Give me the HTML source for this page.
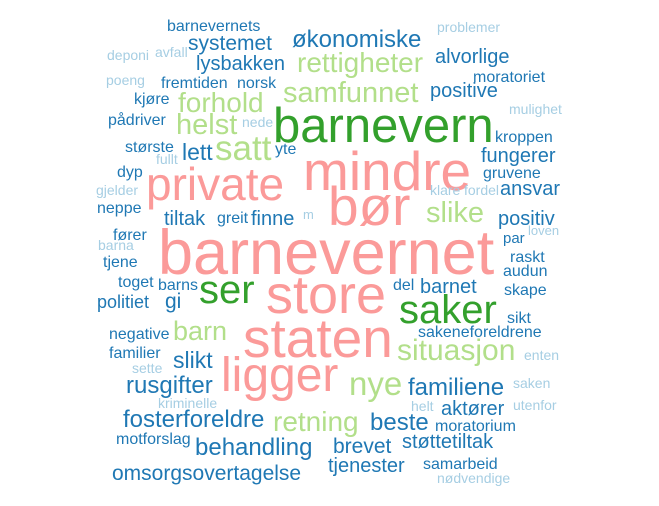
<!DOCTYPE html>
<html><head><meta charset="utf-8"><style>
html,body{margin:0;padding:0;background:#fff;width:659px;height:506px;overflow:hidden}
svg text{font-family:"Liberation Sans",Arial,sans-serif}
.p{fill:#fb9a99}.g{fill:#33a02c}.lg{fill:#b2df8a}.b{fill:#1f78b4}.lb{fill:#a6cee3}
</style></head><body>
<svg width="659" height="506" viewBox="0 0 659 506">
<g>
<text class="p" x="158" y="274" font-size="63">barnevernet</text>
<text class="p" x="266" y="313" font-size="54">store</text>
<text class="p" x="243" y="357" font-size="55">staten</text>
<text class="p" x="221" y="391" font-size="48">ligger</text>
<text class="p" x="303" y="190" font-size="55">mindre</text>
<text class="p" x="146" y="200" font-size="46">private</text>
<text class="p" x="328" y="225" font-size="55">bør</text>
<text class="g" x="273" y="142" font-size="49">barnevern</text>
<text class="g" x="199" y="303" font-size="40">ser</text>
<text class="g" x="399" y="323" font-size="40">saker</text>
<text class="lg" x="215" y="160" font-size="35">satt</text>
<text class="lg" x="178" y="112" font-size="28">forhold</text>
<text class="lg" x="176" y="134" font-size="29">helst</text>
<text class="lg" x="297" y="72" font-size="28">rettigheter</text>
<text class="lg" x="283" y="102" font-size="29">samfunnet</text>
<text class="lg" x="426" y="222" font-size="29">slike</text>
<text class="lg" x="397" y="360" font-size="30">situasjon</text>
<text class="lg" x="349" y="395" font-size="33">nye</text>
<text class="lg" x="273" y="431" font-size="28">retning</text>
<text class="lg" x="173" y="340" font-size="27">barn</text>
<text class="b" x="292" y="47" font-size="24">økonomiske</text>
<text class="b" x="435" y="63" font-size="20">alvorlige</text>
<text class="lb" x="437" y="32" font-size="14">problemer</text>
<text class="b" x="473" y="82" font-size="16">moratoriet</text>
<text class="b" x="430" y="97" font-size="20">positive</text>
<text class="lb" x="509" y="114" font-size="14">mulighet</text>
<text class="b" x="495" y="142" font-size="16">kroppen</text>
<text class="b" x="481" y="162" font-size="20">fungerer</text>
<text class="b" x="483" y="178" font-size="16">gruvene</text>
<text class="lb" x="430" y="195" font-size="14">klare</text>
<text class="lb" x="464" y="195" font-size="14">fordel</text>
<text class="b" x="500" y="195" font-size="20">ansvar</text>
<text class="b" x="498" y="225" font-size="20">positiv</text>
<text class="lb" x="528" y="235" font-size="13">loven</text>
<text class="b" x="503" y="243" font-size="15">par</text>
<text class="b" x="510" y="262" font-size="16">raskt</text>
<text class="b" x="503" y="276" font-size="16">audun</text>
<text class="b" x="393" y="290" font-size="16">del</text>
<text class="b" x="420" y="293" font-size="20">barnet</text>
<text class="b" x="504" y="295" font-size="16">skape</text>
<text class="b" x="507" y="323" font-size="16">sikt</text>
<text class="b" x="418" y="337" font-size="16">sakeneforeldrene</text>
<text class="lb" x="524" y="360" font-size="14">enten</text>
<text class="b" x="408" y="395" font-size="24">familiene</text>
<text class="lb" x="513" y="388" font-size="14">saken</text>
<text class="lb" x="411" y="411" font-size="14">helt</text>
<text class="b" x="441" y="415" font-size="20">aktører</text>
<text class="lb" x="513" y="410" font-size="14">utenfor</text>
<text class="b" x="370" y="430" font-size="24">beste</text>
<text class="b" x="435" y="431" font-size="16">moratorium</text>
<text class="b" x="402" y="448" font-size="20">støttetiltak</text>
<text class="b" x="333" y="453" font-size="21">brevet</text>
<text class="b" x="328" y="472" font-size="20">tjenester</text>
<text class="b" x="423" y="469" font-size="16">samarbeid</text>
<text class="lb" x="437" y="483" font-size="14">nødvendige</text>
<text class="lb" x="98" y="250" font-size="14">barna</text>
<text class="b" x="103" y="267" font-size="16">tjene</text>
<text class="b" x="118" y="287" font-size="16">toget</text>
<text class="b" x="158" y="290" font-size="16">barns</text>
<text class="b" x="97" y="308" font-size="18">politiet</text>
<text class="b" x="165" y="308" font-size="21">gi</text>
<text class="b" x="109" y="339" font-size="16">negative</text>
<text class="b" x="109" y="358" font-size="16">familier</text>
<text class="b" x="173" y="368" font-size="23">slikt</text>
<text class="lb" x="132" y="373" font-size="14">sette</text>
<text class="b" x="126" y="393" font-size="24">rusgifter</text>
<text class="lb" x="158" y="408" font-size="14">kriminelle</text>
<text class="b" x="123" y="427" font-size="24">fosterforeldre</text>
<text class="b" x="116" y="444" font-size="16">motforslag</text>
<text class="b" x="195" y="455" font-size="24">behandling</text>
<text class="b" x="112" y="480" font-size="21">omsorgsovertagelse</text>
<text class="b" x="167" y="31" font-size="16">barnevernets</text>
<text class="b" x="188" y="50" font-size="21">systemet</text>
<text class="lb" x="107" y="60" font-size="14">deponi</text>
<text class="lb" x="155" y="57" font-size="14">avfall</text>
<text class="b" x="196" y="70" font-size="20">lysbakken</text>
<text class="lb" x="106" y="85" font-size="14">poeng</text>
<text class="b" x="161" y="88" font-size="16">fremtiden</text>
<text class="b" x="237" y="88" font-size="16">norsk</text>
<text class="b" x="134" y="104" font-size="16">kjøre</text>
<text class="b" x="108" y="125" font-size="16">pådriver</text>
<text class="lb" x="242" y="127" font-size="14">nede</text>
<text class="b" x="125" y="152" font-size="16">største</text>
<text class="b" x="182" y="160" font-size="23">lett</text>
<text class="b" x="275" y="154" font-size="16">yte</text>
<text class="lb" x="156" y="164" font-size="14">fullt</text>
<text class="b" x="117" y="177" font-size="16">dyp</text>
<text class="lb" x="96" y="195" font-size="14">gjelder</text>
<text class="b" x="97" y="213" font-size="16">neppe</text>
<text class="b" x="164" y="225" font-size="20">tiltak</text>
<text class="b" x="217" y="223" font-size="16">greit</text>
<text class="b" x="251" y="225" font-size="20">finne</text>
<text class="lb" x="303" y="219" font-size="13">m</text>
<text class="b" x="113" y="240" font-size="16">fører</text>
</g>
</svg>
</body></html>
